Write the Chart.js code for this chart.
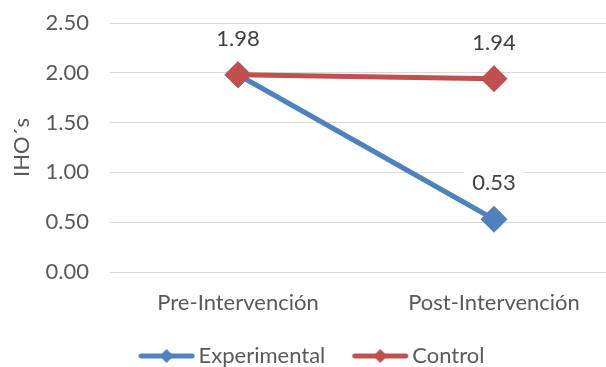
<!DOCTYPE html>
<html>
<head>
<meta charset="utf-8">
<script src="https://cdn.jsdelivr.net/npm/chart.js@4/dist/chart.umd.min.js"></script>
<style>
html, body { margin: 0; padding: 0; background: #fff; overflow: hidden; }
#wrap { position: absolute; left: 0; top: 0; width: 622px; height: 367px; }
#ihoChart { display: block; width: 622px; height: 367px; }
</style>
</head>
<body>
<div id="wrap"><canvas id="ihoChart" width="622" height="367"></canvas></div>
<script>
const categories = ['Pre-Intervención', 'Post-Intervención'];
const experimental = [1.98, 0.53];
const control = [1.98, 1.94];
const yTicks = [0, 0.5, 1, 1.5, 2, 2.5];

const blue = '#4F81BD';
const red = '#C0504D';
const font = 'Lato';
const fontSize = 22;

// line + diamond picture for the legend, shifted right so it sits close to the text
function legendIcon(color) {
    let c = document.createElement('canvas');
    c.width = 92; c.height = 18;
    let ctx = c.getContext('2d');
    ctx.strokeStyle = color;
    ctx.lineWidth = 5;
    ctx.lineCap = 'round';
    ctx.beginPath();
    ctx.moveTo(37.5, 9); ctx.lineTo(88.5, 9);
    ctx.stroke();
    ctx.fillStyle = color;
    ctx.beginPath();
    ctx.moveTo(63, 2); ctx.lineTo(70, 9); ctx.lineTo(63, 16); ctx.lineTo(56, 9);
    ctx.closePath();
    ctx.fill();
    return c;
}

// value labels in a white box above each point
const valueLabels = {
    id: 'valueLabels',
    afterDatasetsDraw(chart) {
        let ctx = chart.ctx;
        ctx.save();
        ctx.font = fontSize + 'px ' + font;
        ctx.textAlign = 'center';
        ctx.textBaseline = 'middle';
        chart.data.datasets.forEach((ds, i) => {
            chart.getDatasetMeta(i).data.forEach((pt, j) => {
                let txt = ds.data[j].toFixed(2);
                let w = ctx.measureText(txt).width + 16;
                let y = pt.y - 36;
                ctx.fillStyle = '#fff';
                ctx.fillRect(pt.x - w / 2, y - 13, w, 26);
                ctx.fillStyle = '#404040';
                ctx.fillText(txt, pt.x, y);
            });
        });
        ctx.restore();
    }
};

// nudge the legend: a bit lower and left so it lines up with the original
const legendNudge = {
    id: 'legendNudge',
    afterLayout(chart) {
        let lg = chart.legend;
        lg.top += 10; lg.bottom += 10;
        lg.left -= 13; lg.right -= 13;
    }
};

let icons = [legendIcon(blue), legendIcon(red)];

new Chart(document.getElementById('ihoChart'), {
    type: 'line',
    data: {
        labels: categories,
        datasets: [{
            label: 'Experimental',
            data: experimental,
            borderColor: blue,
            backgroundColor: blue,
            borderWidth: 5,
            pointStyle: 'rectRot',
            pointRadius: 10,
            pointHoverRadius: 10,
            order: 2
        }, {
            label: 'Control',
            data: control,
            borderColor: red,
            backgroundColor: red,
            borderWidth: 5,
            pointStyle: 'rectRot',
            pointRadius: 10,
            pointHoverRadius: 10,
            order: 1
        }]
    },
    options: {
        responsive: false,
        animation: false,
        layout: { autoPadding: false, padding: { top: 23, right: 0, bottom: 0, left: 0 } },
        plugins: {
            tooltip: { enabled: false },
            legend: {
                position: 'bottom',
                labels: {
                    usePointStyle: true,
                    pointStyleWidth: 76,
                    boxHeight: fontSize,
                    color: '#595959',
                    font: { family: font, size: fontSize },
                    padding: 0,
                    generateLabels(chart) {
                        return chart.data.datasets.map((ds, i) => ({
                            text: ds.label,
                            pointStyle: icons[i],
                            fillStyle: ds.borderColor,
                            strokeStyle: ds.borderColor,
                            lineWidth: 0,
                            datasetIndex: i,
                            fontColor: '#595959'
                        }));
                    }
                }
            }
        },
        scales: {
            x: {
                offset: true,
                grid: { display: false, drawTicks: false },
                border: { color: '#D9D9D9' },
                ticks: { color: '#595959', font: { family: font, size: fontSize }, padding: 18 },
                afterFit(s) { s.height = 63; }
            },
            y: {
                min: 0,
                max: 2.5,
                afterBuildTicks(s) { s.ticks = yTicks.map(v => ({ value: v })); },
                grid: { color: '#D9D9D9', tickLength: 21, tickColor: 'rgba(0,0,0,0)' },
                border: { display: false },
                ticks: {
                    color: '#595959',
                    font: { family: font, size: fontSize },
                    padding: 0,
                    callback: v => v.toFixed(2)
                },
                title: {
                    display: true,
                    text: 'IHO´s',
                    color: '#595959',
                    font: { family: font, size: fontSize },
                    padding: { top: 9, bottom: 0 }
                },
                afterFit(s) { s.width = 110; }
            }
        }
    },
    plugins: [valueLabels, legendNudge]
});
</script>
</body>
</html>
